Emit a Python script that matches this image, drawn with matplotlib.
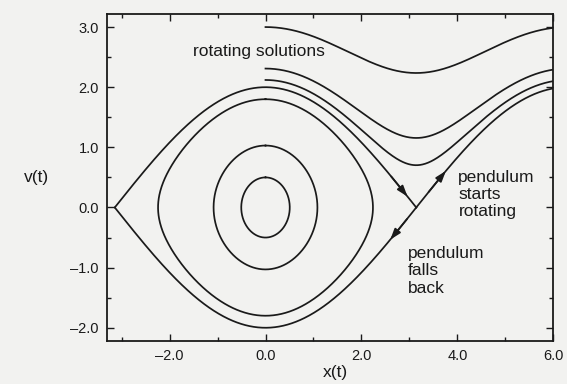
import numpy as np
import matplotlib
matplotlib.use("Agg")
import matplotlib.pyplot as plt
from matplotlib.ticker import MultipleLocator, FuncFormatter

plt.rcParams['font.family'] = ['Liberation Sans', 'DejaVu Sans']

# ---- data ----
# velocity v at x = 0 for each trajectory of the pendulum x'' = -sin x
closed_v0 = [0.5, 1.03, 1.8]          # librating (closed) orbits
separatrix_v0 = 2.0                    # separatrix through the saddles (+-pi, 0)
rotating_v0 = [2.12, 2.31, 3.0]        # rotating solutions, drawn from x = 0
rotating_x_start = 0.0
x_min, x_max = -3.3, 6.0
y_min, y_max = -2.22, 3.22
# arrow positions along the separatrix branches (x of tail, x of tip)
arrow_in_x = (2.62, 2.96)      # upper branch running into the saddle
arrow_up_x = (3.40, 3.76)      # branch leaving the saddle upwards (starts rotating)
arrow_down_x = (2.95, 2.60)    # lower branch leaving the saddle (falls back)

bg = '#f2f2f0'
ink = '#1a1a1a'
lw = 1.25

fig = plt.figure(figsize=(5.67, 3.84), dpi=100, facecolor=bg)
ax = fig.add_axes([0.189, 0.112, 0.787, 0.852], facecolor=bg)

# closed orbits: sin(x/2) = k sin(th), v = 2k cos(th), with k = v0/2
th = np.linspace(0, 2 * np.pi, 800)
for v0 in closed_v0:
    k = v0 / 2
    ax.plot(2 * np.arcsin(k * np.sin(th)), 2 * k * np.cos(th), color=ink, lw=lw)

# separatrix (energy conservation with v0 = 2)
ths = np.linspace(-np.pi / 2, np.pi / 2, 500)
ax.plot(2 * ths, separatrix_v0 * np.cos(ths), color=ink, lw=lw)
ax.plot(2 * ths, -separatrix_v0 * np.cos(ths), color=ink, lw=lw)


def sep_v(x, sign):
    return sign * np.sqrt(np.clip(separatrix_v0**2 - 4 * np.sin(x / 2) ** 2, 0, None))


xs = np.linspace(np.pi, x_max, 300)
ax.plot(xs, sep_v(xs, 1), color=ink, lw=lw)

# rotating solutions
xr = np.linspace(rotating_x_start, x_max, 500)
for v0 in rotating_v0:
    ax.plot(xr, np.sqrt(v0**2 - 4 * np.sin(xr / 2) ** 2), color=ink, lw=lw)

# arrows on the separatrix
ap = dict(arrowstyle='-|>,head_length=0.65,head_width=0.22', color=ink, lw=lw,
          mutation_scale=10, shrinkA=0, shrinkB=0)
for (x0, x1), sign in [(arrow_in_x, 1), (arrow_up_x, 1), (arrow_down_x, -1)]:
    ax.annotate('', xy=(x1, sep_v(x1, sign)), xytext=(x0, sep_v(x0, sign)),
                arrowprops=ap)

# texts
ax.text(-1.52, 2.72, 'rotating solutions', fontsize=12.5, color=ink, va='top', ha='left')
ax.text(4.02, 0.63, 'pendulum\nstarts\nrotating', fontsize=12.5, color=ink,
        va='top', ha='left')
ax.text(2.975, -0.64, 'pendulum\nfalls\nback', fontsize=12.5, color=ink,
        va='top', ha='left')

ax.set_xlim(x_min, x_max)
ax.set_ylim(y_min, y_max)
ax.xaxis.set_major_locator(MultipleLocator(2.0))
ax.xaxis.set_minor_locator(MultipleLocator(1.0))
ax.yaxis.set_major_locator(MultipleLocator(1.0))
ax.yaxis.set_minor_locator(MultipleLocator(0.5))
fmt = FuncFormatter(lambda v, p: ('%.1f' % v).replace('-', '\u2013'))
ax.xaxis.set_major_formatter(fmt)
ax.yaxis.set_major_formatter(fmt)
ax.tick_params(which='both', direction='in', top=True, right=True, color=ink,
               labelcolor=ink, labelsize=10.5, width=1.0)
ax.tick_params(which='major', length=5, pad=6)
ax.tick_params(which='minor', length=3)
for s in ax.spines.values():
    s.set_linewidth(1.3)
    s.set_color(ink)

ax.set_xlabel('x(t)', fontsize=12.5, color=ink)
ax.xaxis.set_label_coords(0.511, -0.095)
ax.xaxis.label.set_va('center')
ax.set_ylabel('v(t)', fontsize=12.5, color=ink, rotation=0)
ax.yaxis.set_label_coords(-0.159, 0.5)
ax.yaxis.label.set_va('center')
ax.yaxis.label.set_ha('center')

fig.savefig('out.png', dpi=100, facecolor=bg)
